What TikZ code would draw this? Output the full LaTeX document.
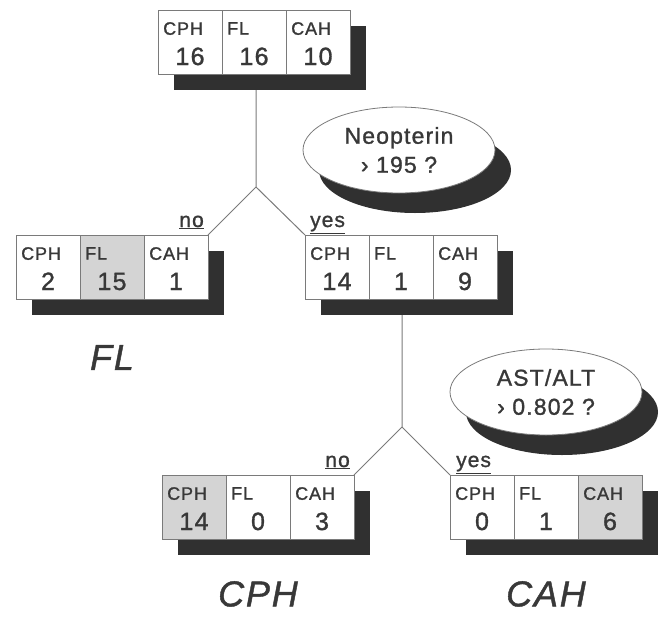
\documentclass[tikz,border=0pt]{standalone}
\usepackage{fontspec}
\setmainfont{Liberation Sans}[LetterSpace=5,FakeBold=1.2]
\usetikzlibrary{positioning,fit,backgrounds,shapes.geometric,shadows,calc}

\definecolor{ink}{HTML}{383838}
\definecolor{rule}{HTML}{7A7A7A}
\definecolor{shade}{HTML}{D4D4D4}
\definecolor{dark}{HTML}{303030}

\begin{document}
\begin{tikzpicture}[
  x=1pt, y=1pt,
  text=ink,
  cell/.style={draw=rule,line width=0.8pt,fill=white,minimum width=64pt,
               minimum height=64pt,inner sep=0pt,outer sep=0pt},
  hit/.style={cell,fill=shade},
  tag/.style={anchor=north west,inner sep=0pt,xshift=5pt,yshift=-12pt,
              font=\fontsize{18}{18}\selectfont},
  num/.style={anchor=base,inner sep=0pt,yshift=9pt,
              font=\fontsize{25}{25}\selectfont},
  cls/.style 2 args={label={[tag]north west:#1},label={[num]south:#2}},
  drop/.style={fill=dark,draw=none,inner sep=0pt,xshift=16pt,yshift=-16pt},
  conn/.style={draw=rule,line width=1pt},
  test/.style={ellipse,draw=rule,line width=0.8pt,fill=white,
               minimum width=192pt,minimum height=86pt,inner sep=0pt,
               align=center,font=\fontsize{23}{29}\selectfont,
               drop shadow={shadow xshift=16pt,shadow yshift=-20pt,
                            fill=dark,opacity=1}},
  branch/.style={inner sep=0pt,font=\fontsize{21}{21}\selectfont},
  leaf/.style={inner sep=0pt,font=\fontsize{36}{36}\selectfont\itshape}]
\path[use as bounding box] (0,0) rectangle (664,-616);
% root
\node[cell,cls={CPH}{16}] (t1) at (190,-42) {};
\node[cell,cls={FL}{16},right=0pt of t1] (t2) {};
\node[cell,cls={CAH}{10},right=0pt of t2] (t3) {};
% neopterin <= 195
\node[cell,cls={CPH}{2}] (l1) at (48,-267) {};
\node[hit,cls={FL}{15},right=0pt of l1] (l2) {};
\node[cell,cls={CAH}{1},right=0pt of l2] (l3) {};
% neopterin > 195
\node[cell,cls={CPH}{14}] (r1) at (337,-267) {};
\node[cell,cls={FL}{1},right=0pt of r1] (r2) {};
\node[cell,cls={CAH}{9},right=0pt of r2] (r3) {};
% ast/alt <= 0.802
\node[hit,cls={CPH}{14}] (b1) at (194,-507) {};
\node[cell,cls={FL}{0},right=0pt of b1] (b2) {};
\node[cell,cls={CAH}{3},right=0pt of b2] (b3) {};
% ast/alt > 0.802
\node[cell,cls={CPH}{0}] (c1) at (482,-507) {};
\node[cell,cls={FL}{1},right=0pt of c1] (c2) {};
\node[hit,cls={CAH}{6},right=0pt of c2] (c3) {};
\coordinate (fork1) at (256,-187);
\coordinate (fork2) at (402,-427);
\begin{scope}[on background layer]
\draw[conn] (fork1 |- t2.south) -- (fork1) -- (l3.north east);
\draw[conn] (fork1) -- (r1.north west);
\draw[conn] (fork2 |- r2.south) -- (fork2) -- (b3.north east);
\draw[conn] (fork2) -- (c1.north west);
\node[drop,fit=(t1)(t3)] (ts) {};
\node[drop,fit=(l1)(l3)] (ls) {};
\node[drop,fit=(r1)(r3)] (rs) {};
\node[drop,fit=(b1)(b3)] (bs) {};
\node[drop,fit=(c1)(c3)] (cs) {};
\end{scope}
\node[test] (q1) at (399,-150) {Neopterin\\› 195 ?};
\node[test] (q2) at (546,-392) {AST/ALT\\› 0.802 ?};
\node[branch,anchor=base east] (no1) at ($(l3.north east)+(-4,8)$) {\underline{no}};
\node[branch,anchor=base west] (yes1) at ($(r1.north west)+(5,8)$) {\underline{yes}};
\node[branch,anchor=base east] (no2) at ($(b3.north east)+(-4,8)$) {\underline{no}};
\node[branch,anchor=base west] (yes2) at ($(c1.north west)+(6,8)$) {\underline{yes}};
\node[leaf,below=46pt of l2] (fl) {FL};
\node[leaf,below=42pt of b2] (cph) {CPH};
\node[leaf,below=42pt of c2] (cah) {CAH};
\end{tikzpicture}
\end{document}
